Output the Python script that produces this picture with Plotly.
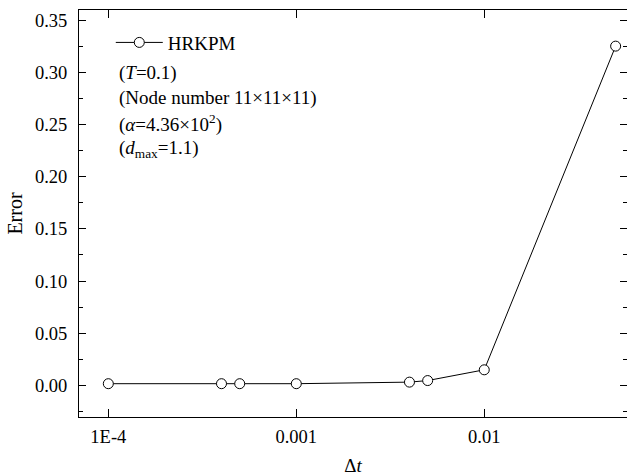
import plotly.graph_objects as go

# Time-step convergence data for the HRKPM solver
dt = [1e-4, 4e-4, 5e-4, 1e-3, 4e-3, 5e-3, 1e-2, 5e-2]
error = [0.0017, 0.0017, 0.0017, 0.0017, 0.0032, 0.0047, 0.015, 0.325]
series_name = "HRKPM"

x_tickvals = [1e-4, 1e-3, 1e-2]
x_ticktext = ["1E-4", "0.001", "0.01"]

notes = [
    "(<i>T</i>=0.1)",
    "(Node number 11×11×11)",
    "(<i>α</i>=4.36×10<sup>2</sup>)",
    "(<i>d</i><sub>max</sub>=1.1)",
]

FONT = "'Liberation Serif', 'Times New Roman', Times, serif"

fig = go.Figure()
fig.add_trace(go.Scatter(
    x=dt, y=error, name=series_name, mode="lines+markers",
    line=dict(color="black", width=1),
    marker=dict(symbol="circle", size=10, color="white",
                line=dict(color="black", width=1)),
))

axis_common = dict(
    showline=True, linecolor="black", linewidth=1, mirror="allticks",
    ticks="inside", tickcolor="black", tickwidth=1,
    showgrid=False, zeroline=False, automargin=False,
    tickfont=dict(family=FONT, size=18.5, color="black"),
)

fig.update_xaxes(
    type="log", range=[-4.156, -1.2406],
    tickvals=x_tickvals, ticktext=x_ticktext, ticklen=8,
    ticklabelstandoff=3,
    title=dict(text="Δ<i>t</i>", font=dict(family=FONT, size=19, color="black"),
               standoff=25),
    **axis_common,
)
fig.update_yaxes(
    range=[-0.0302, 0.3596], dtick=0.05, tick0=0, tickformat=".2f", ticklen=7,
    ticklabelstandoff=7,
    minor=dict(dtick=0.025, tick0=0, ticks="inside", ticklen=4,
               tickcolor="black", showgrid=False),
    title=dict(text="Error", font=dict(family=FONT, size=20, color="black"),
               standoff=6),
    **axis_common,
)

for i, txt in enumerate(notes):
    fig.add_annotation(
        text=txt, xref="paper", yref="paper", x=0.069, y=0.846 - i * 0.0625,
        xanchor="left", yanchor="middle", showarrow=False,
        font=dict(family=FONT, size=19, color="black"),
    )

fig.update_layout(
    width=627, height=476,
    margin=dict(l=79, r=0, t=10, b=59, autoexpand=False),
    paper_bgcolor="white", plot_bgcolor="white",
    showlegend=True,
    legend=dict(x=0.058, y=0.92, xanchor="left", yanchor="middle",
                bgcolor="rgba(0,0,0,0)", itemwidth=47,
                font=dict(family=FONT, size=19, color="black")),
    font=dict(family=FONT, color="black"),
)

fig.write_html("out.html")
